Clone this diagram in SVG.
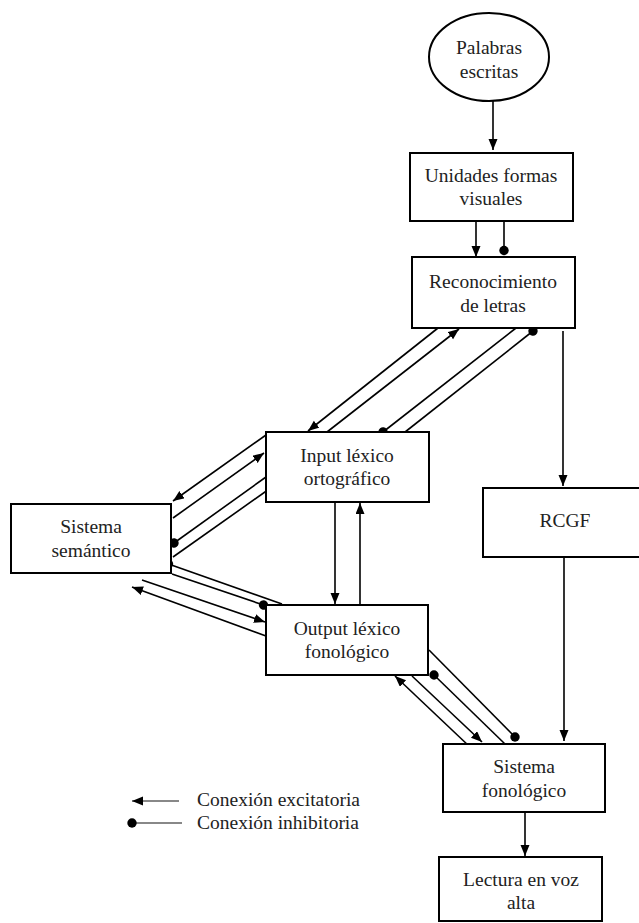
<svg xmlns="http://www.w3.org/2000/svg" width="639" height="923" viewBox="0 0 639 923">
<style>
.box{fill:#fff;stroke:#000;stroke-width:2}
.lbl{font-family:"Liberation Serif","Times New Roman",serif;font-size:19.5px;fill:#222;text-anchor:middle}
.leg{font-family:"Liberation Serif","Times New Roman",serif;font-size:19.5px;fill:#222}
.c line{stroke:#000;stroke-width:1.6}
.ex{marker-end:url(#arr)}
.in{marker-end:url(#dot)}
</style>
<defs>
<marker id="arr" markerUnits="userSpaceOnUse" markerWidth="12" markerHeight="10" refX="11" refY="4.5" orient="auto">
<path d="M0,0 L11,4.5 L0,9 z" fill="#000"/>
</marker>
<marker id="dot" markerUnits="userSpaceOnUse" markerWidth="12" markerHeight="12" refX="6" refY="6" orient="auto">
<circle cx="6" cy="6" r="4.7" fill="#000"/>
</marker>
</defs>
<rect width="639" height="923" fill="#fff"/>

<g id="connectors" class="c">
<line class="ex" x1="493" y1="101" x2="493" y2="150"/>
<line class="ex" x1="476" y1="221" x2="476" y2="257"/>
<line class="in" x1="504" y1="221" x2="504" y2="250.5"/>
<line class="ex" x1="438" y1="328" x2="308" y2="431"/>
<line class="ex" x1="327" y1="432" x2="459" y2="329"/>
<line class="in" x1="516" y1="328" x2="383" y2="432"/>
<line class="in" x1="400" y1="436" x2="533" y2="331"/>
<line class="ex" x1="563" y1="331" x2="563" y2="486"/>
<line class="ex" x1="266" y1="435" x2="173" y2="501"/>
<line class="ex" x1="173" y1="518" x2="264" y2="453"/>
<line class="in" x1="266" y1="477" x2="174" y2="543"/>
<line class="in" x1="173" y1="557" x2="272" y2="487"/>
<line class="in" x1="282" y1="604" x2="168.5" y2="564"/>
<line class="in" x1="172" y1="574" x2="263.5" y2="605"/>
<line class="ex" x1="142" y1="580" x2="265" y2="622"/>
<line class="ex" x1="266" y1="636" x2="132" y2="587"/>
<line class="ex" x1="335" y1="502" x2="335" y2="604"/>
<line class="ex" x1="360" y1="605" x2="360" y2="503"/>
<line class="ex" x1="470" y1="747" x2="395" y2="676"/>
<line class="ex" x1="412" y1="676" x2="482" y2="742"/>
<line class="in" x1="505" y1="744" x2="434" y2="675"/>
<line class="in" x1="429" y1="650" x2="515" y2="737"/>
<line class="ex" x1="564" y1="557" x2="564" y2="741"/>
<line class="ex" x1="525" y1="812" x2="525" y2="856"/>
</g>

<g id="palabras">
<ellipse cx="489" cy="57" rx="60" ry="44" fill="#fff" stroke="#000" stroke-width="2"/>
<text class="lbl" x="489" y="54">Palabras</text>
<text class="lbl" x="489" y="78">escritas</text>
</g>
<g id="unidades">
<rect class="box" x="410" y="153" width="163" height="68"/>
<text class="lbl" x="491" y="182">Unidades formas</text>
<text class="lbl" x="491" y="205">visuales</text>
</g>
<g id="reconocimiento">
<rect class="box" x="412" y="257" width="163" height="71"/>
<text class="lbl" x="493" y="288">Reconocimiento</text>
<text class="lbl" x="493" y="312">de letras</text>
</g>
<g id="input">
<rect class="box" x="266" y="432" width="163" height="70"/>
<text class="lbl" x="347" y="462">Input léxico</text>
<text class="lbl" x="347" y="485">ortográfico</text>
</g>
<g id="semantico">
<rect class="box" x="11" y="504" width="160" height="69"/>
<text class="lbl" x="91" y="533">Sistema</text>
<text class="lbl" x="91" y="557">semántico</text>
</g>
<g id="rcgf">
<rect class="box" x="483" y="488" width="163" height="69"/>
<text class="lbl" x="565" y="527">RCGF</text>
</g>
<g id="output">
<rect class="box" x="266" y="605" width="162" height="70"/>
<text class="lbl" x="347" y="635">Output léxico</text>
<text class="lbl" x="347" y="658">fonológico</text>
</g>
<g id="fonologico">
<rect class="box" x="443" y="744" width="162" height="68"/>
<text class="lbl" x="524" y="773">Sistema</text>
<text class="lbl" x="524" y="797">fonológico</text>
</g>
<g id="lectura">
<rect class="box" x="439" y="857" width="163" height="64"/>
<text class="lbl" x="521" y="886">Lectura en voz</text>
<text class="lbl" x="521" y="909">alta</text>
</g>

<g id="legend">
<line x1="179" y1="801" x2="132" y2="801" stroke="#888" stroke-width="2" marker-end="url(#arr)"/>
<text class="leg" x="197" y="806">Conexión excitatoria</text>
<line x1="182" y1="823" x2="132" y2="823" stroke="#888" stroke-width="2" marker-end="url(#dot)"/>
<text class="leg" x="197" y="829">Conexión inhibitoria</text>
</g>
</svg>
